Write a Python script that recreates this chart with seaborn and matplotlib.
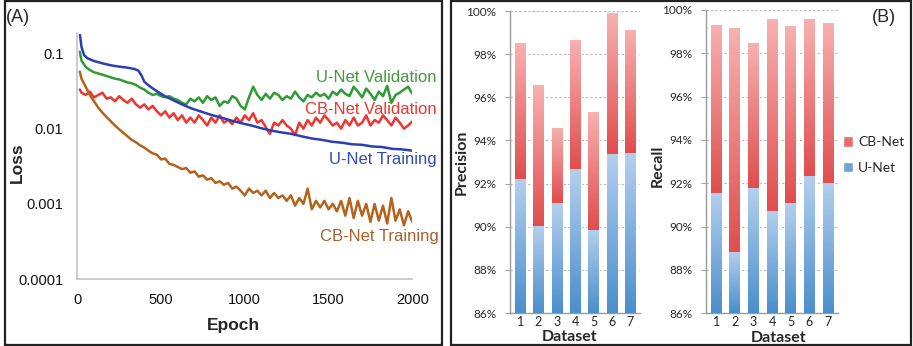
import numpy as np
import pandas as pd
import matplotlib
matplotlib.use("Agg")
import matplotlib.pyplot as plt
import matplotlib.colors as mcolors
from matplotlib.patches import Rectangle, Patch
from matplotlib.ticker import FixedLocator, FuncFormatter
import seaborn as sns

# ---- panel A data: loss curves ----
epochs = [15] + list(range(25, 2001, 25))

cbnet_train = [0.057,
    0.046, 0.036, 0.028, 0.023, 0.019, 0.0163, 0.0142, 0.0125, 0.0110, 0.0098,
    0.0088, 0.0079, 0.0071, 0.0066, 0.0060, 0.0056, 0.0051, 0.0047, 0.0045, 0.0039,
    0.0040, 0.0034, 0.0033, 0.0031, 0.0029, 0.0030, 0.0026, 0.0027, 0.0023, 0.0024,
    0.0021, 0.0022, 0.0019, 0.0020, 0.0018, 0.0019, 0.0016, 0.0017, 0.0015, 0.0013,
    0.0016, 0.0014, 0.0015, 0.0013, 0.0015, 0.0012, 0.0014, 0.0012, 0.0013, 0.0011,
    0.0013, 0.00095, 0.0012, 0.0010, 0.0016, 0.00085, 0.0011, 0.00090, 0.0011, 0.00085,
    0.0010, 0.00080, 0.0011, 0.00070, 0.0012, 0.00065, 0.0011, 0.00070, 0.0010, 0.00058,
    0.0010, 0.00060, 0.00095, 0.00055, 0.0012, 0.00060, 0.00085, 0.00052, 0.00080, 0.00058]

unet_val = [0.105,
    0.080, 0.066, 0.060, 0.056, 0.054, 0.052, 0.050, 0.048, 0.046, 0.045,
    0.043, 0.041, 0.040, 0.038, 0.035, 0.033, 0.030, 0.028, 0.029, 0.027,
    0.026, 0.027, 0.025, 0.024, 0.022, 0.021, 0.025, 0.023, 0.026, 0.022,
    0.027, 0.024, 0.026, 0.020, 0.023, 0.022, 0.027, 0.025, 0.020, 0.018,
    0.026, 0.036, 0.028, 0.024, 0.029, 0.025, 0.030, 0.028, 0.024, 0.027,
    0.025, 0.031, 0.026, 0.023, 0.028, 0.026, 0.030, 0.027, 0.029, 0.025,
    0.031, 0.028, 0.033, 0.029, 0.027, 0.036, 0.031, 0.026, 0.034, 0.029,
    0.024, 0.031, 0.027, 0.037, 0.022, 0.028, 0.030, 0.033, 0.036, 0.029]

cbnet_val = [0.033,
    0.030, 0.028, 0.031, 0.026, 0.028, 0.030, 0.025, 0.026, 0.023, 0.027,
    0.024, 0.022, 0.025, 0.021, 0.019, 0.021, 0.018, 0.020, 0.017, 0.015,
    0.017, 0.014, 0.016, 0.013, 0.015, 0.012, 0.014, 0.012, 0.015, 0.013,
    0.011, 0.014, 0.012, 0.015, 0.012, 0.013, 0.0115, 0.014, 0.012, 0.015,
    0.013, 0.016, 0.012, 0.013, 0.0105, 0.0085, 0.012, 0.011, 0.013, 0.011,
    0.010, 0.0082, 0.012, 0.010, 0.013, 0.011, 0.014, 0.012, 0.015, 0.013,
    0.011, 0.012, 0.010, 0.013, 0.011, 0.014, 0.011, 0.012, 0.015, 0.011,
    0.013, 0.012, 0.015, 0.013, 0.011, 0.014, 0.012, 0.010, 0.011, 0.0125]

unet_train_epochs = [16, 25, 40, 60, 100, 150, 200, 250, 300, 340, 365, 385, 400, 430,
                     470, 520, 570, 620, 680, 740, 800, 860, 920, 980, 1040, 1100, 1160,
                     1220, 1280, 1340, 1400, 1460, 1520, 1580, 1640, 1700, 1760, 1820,
                     1880, 1940, 2000]
unet_train = [0.175, 0.122, 0.095, 0.086, 0.079, 0.0736, 0.0693, 0.0665, 0.0645, 0.062,
              0.0589, 0.050, 0.042, 0.0368, 0.0319, 0.0272, 0.024, 0.0212, 0.0186, 0.0168,
              0.0152, 0.014, 0.0128, 0.0118, 0.011, 0.0101, 0.0094, 0.0089, 0.0085, 0.0079,
              0.0074, 0.0071, 0.0067, 0.0065, 0.0062, 0.0061, 0.0058, 0.0057, 0.0054, 0.0053,
              0.0051]

# ---- panel B data: precision / recall ----
datasets = ["1", "2", "3", "4", "5", "6", "7"]
prec_unet = [92.2, 90.05, 91.08, 92.69, 89.85, 93.38, 93.4]
prec_cbnet = [98.5, 96.57, 94.56, 98.66, 95.33, 99.89, 99.12]
rec_unet = [91.57, 88.82, 91.8, 90.71, 91.11, 92.35, 92.02]
rec_cbnet = [99.31, 99.15, 98.46, 99.57, 99.25, 99.57, 99.41]

sns.set_style("white")
plt.rcParams["font.family"] = ["Liberation Sans", "DejaVu Sans"]
bfont = ["Lato", "DejaVu Sans"]

fig = plt.figure(figsize=(9.13, 3.46), dpi=100)
W, H = 913, 346

def px_axes(l, r, t, b):
    return fig.add_axes([l / W, 1 - b / H, (r - l) / W, (b - t) / H])

# panel borders
fig.patches.append(Rectangle((5 / W, 1 / H), 437 / W, 344 / H, transform=fig.transFigure,
                             fill=False, ec="#222222", lw=1.6))
fig.patches.append(Rectangle((451 / W, 1 / H), 460 / W, 344 / H, transform=fig.transFigure,
                             fill=False, ec="#222222", lw=1.6))

# ---------------- panel A ----------------
ax = px_axes(77.3, 412.3, 33, 279.3)
c_green, c_red, c_blue, c_brown = "#2f9b35", "#ee3530", "#2c3fb2", "#b5621c"
sns.lineplot(x=epochs, y=unet_val, ax=ax, color=c_green, lw=1.8)
sns.lineplot(x=epochs, y=cbnet_val, ax=ax, color=c_red, lw=1.8)
sns.lineplot(x=unet_train_epochs, y=unet_train, ax=ax, color=c_blue, lw=1.8)
sns.lineplot(x=epochs, y=cbnet_train, ax=ax, color=c_brown, lw=1.8)
ax.set_yscale("log")
ax.set_xlim(0, 2000)
ax.set_ylim(1e-4, 0.186)
ax.yaxis.set_major_locator(FixedLocator([1e-4, 1e-3, 1e-2, 1e-1]))
ax.yaxis.set_major_formatter(FuncFormatter(lambda v, p: f"{v:g}" if v >= 1e-3 else "0.0001"))
ax.yaxis.set_minor_locator(FixedLocator([]))
ax.set_xticks([0, 500, 1000, 1500, 2000])
for s in ["top", "right"]:
    ax.spines[s].set_visible(False)
for s in ["left", "bottom"]:
    ax.spines[s].set_color("#c4c4c4")
    ax.spines[s].set_linewidth(1.2)
ax.tick_params(axis="both", direction="in", length=4, color="#c4c4c4", labelsize=10.5,
               labelcolor="#111111")
ax.tick_params(axis="y", pad=10)
ax.tick_params(axis="x", pad=10)
ax.set_xlabel("Epoch", fontsize=12.5, fontweight="bold")
ax.set_ylabel("Loss", fontsize=12.5, fontweight="bold")
ax.xaxis.set_label_coords(0.465, -0.186)
ax.xaxis.label.set_va("center")
ax.yaxis.set_label_coords(-0.18, 0.472)
ax.yaxis.label.set_va("center")

lab = dict(ha="right", va="center", fontsize=12)
ax.text(2147, 0.0484, "U-Net Validation", color="#459a3c", **lab)
ax.text(2147, 0.0177, "CB-Net Validation", color=c_red, **lab)
ax.text(2147, 0.00394, "U-Net Training", color="#2f4db5", **lab)
ax.text(2159, 0.000375, "CB-Net Training", color="#a8602a", **lab)

fig.text(6 / W, 1 - 17 / H, "(A)", fontsize=13, ha="left", va="center")

# ---------------- panel B ----------------
cb_bottom, cb_top = "#e04e4e", "#f8b0b0"
un_bottom, un_top = "#4b8fcc", "#b4cfee"

def gradient(ax, patch, y0, y1, c0, c1, z):
    x, w = patch.get_x(), patch.get_width()
    t = np.linspace(0, 1, 64)[:, None, None]
    a, b = np.array(mcolors.to_rgb(c0)), np.array(mcolors.to_rgb(c1))
    img = a + (b - a) * t
    im = ax.imshow(img, extent=[x, x + w, y0, y1], origin="lower", aspect="auto",
                   interpolation="bilinear", zorder=z)
    im.set_clip_path(patch)

def bar_panel(ax, unet, cbnet, ylabel, ylab_xy, ds_xy):
    sns.barplot(x=datasets, y=cbnet, color=cb_bottom, saturation=1, width=0.58, ax=ax)
    sns.barplot(x=datasets, y=unet, color=un_bottom, saturation=1, width=0.58, ax=ax)
    patches = list(ax.patches)
    for i, p in enumerate(patches[:7]):
        gradient(ax, p, unet[i], cbnet[i], cb_bottom, cb_top, 2)
    for i, p in enumerate(patches[7:]):
        gradient(ax, p, 86, unet[i], un_bottom, un_top, 3)
    ax.set_ylim(86, 100)
    ax.set_xlim(-0.55, 6.52)
    ax.set_yticks(range(86, 101, 2))
    ax.yaxis.set_major_formatter(FuncFormatter(lambda v, p: f"{v:.0f}%"))
    ax.grid(axis="y", ls=(0, (2, 2)), color="#b8b8b8", lw=0.8)
    ax.set_axisbelow(True)
    for s in ["top", "right"]:
        ax.spines[s].set_visible(False)
    for s in ["left", "bottom"]:
        ax.spines[s].set_color("#9a9a9a")
        ax.spines[s].set_linewidth(1.0)
    ax.tick_params(axis="y", length=3.5, color="#a8a8a8", labelsize=8.5, pad=6.5, left=True)
    ax.tick_params(axis="x", length=0, labelsize=9, pad=2)
    for t in ax.get_xticklabels() + ax.get_yticklabels():
        t.set_family(bfont)
    ax.set_ylabel(ylabel, fontsize=11.5, fontweight="bold", family=bfont)
    ax.set_xlabel("Dataset", fontsize=11.5, fontweight="bold", family=bfont)
    ax.yaxis.set_label_coords(*ylab_xy)
    ax.yaxis.label.set_va("center")
    ax.xaxis.set_label_coords(*ds_xy)
    ax.xaxis.label.set_va("center")

axp = px_axes(510, 640, 11, 313)
bar_panel(axp, prec_unet, prec_cbnet, "Precision", (-0.369, 0.5), (0.46, -0.081))
axr = px_axes(706, 837.7, 10, 313.3)
bar_panel(axr, rec_unet, rec_cbnet, "Recall", (-0.37, 0.486), (0.55, -0.08))

handles = [Patch(facecolor="#ea6d6d", label="CB-Net"), Patch(facecolor="#6ea3d8", label="U-Net")]
fig.legend(handles=handles, loc="center left", bbox_to_anchor=(843 / W, 1 - 155 / H),
           frameon=False, handlelength=0.75, handleheight=0.75, handletextpad=0.35,
           labelspacing=0.95, borderpad=0, borderaxespad=0,
           prop={"family": bfont, "size": 10})

fig.text(872 / W, 1 - 18 / H, "(B)", fontsize=13, ha="left", va="center")

fig.savefig("out.png", dpi=100)
